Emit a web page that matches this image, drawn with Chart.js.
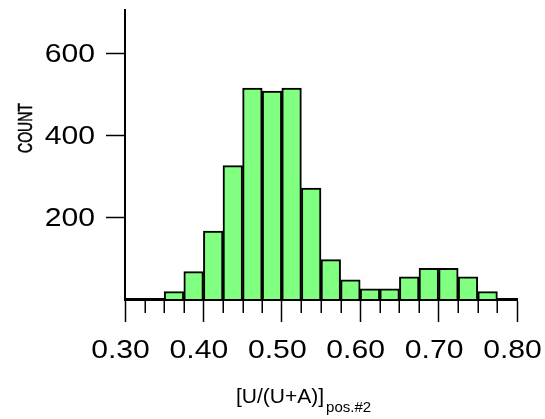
<!DOCTYPE html>
<html>
<head>
<meta charset="utf-8">
<script src="https://cdn.jsdelivr.net/npm/chart.js@4.4.1/dist/chart.umd.min.js"></script>
<style>
  html, body { margin: 0; padding: 0; background: #ffffff; }
  #wrap { width: 545px; height: 419px; position: relative; }
</style>
</head>
<body>
<div id="wrap"><canvas id="hist" width="545" height="419"></canvas></div>
<script>
// Histogram bins (centre of each 0.025-wide bin) and their counts
const binCenters = [0.3625, 0.3875, 0.4125, 0.4375, 0.4625, 0.4875, 0.5125, 0.5375, 0.5625,
                    0.5875, 0.6125, 0.6375, 0.6625, 0.6875, 0.7125, 0.7375, 0.7625];
const counts = [18, 67, 166, 326, 515, 508, 515, 271, 96, 47, 25, 25, 54, 75, 75, 54, 18];

// Axis ticks
const xMajorTicks = [0.30, 0.40, 0.50, 0.60, 0.70, 0.80];
const xTickLabels = ['0.30', '0.40', '0.50', '0.60', '0.70', '0.80'];
const xMinorTicks = [0.325, 0.35, 0.375, 0.425, 0.45, 0.475, 0.525, 0.55, 0.575,
                     0.625, 0.65, 0.675, 0.725, 0.75, 0.775];
const yTicks = [200, 400, 600];
const yTickLabels = ['200', '400', '600'];

const yTitle = 'COUNT';
const xTitleMain = '[U/(U+A)]';
const xTitleSub = 'pos.#2';

const FONT = '"Liberation Sans", Arial, Helvetica, sans-serif';

// Draws tick labels, minor x ticks and axis titles on top of the chart
const axisDecor = {
  id: 'axisDecor',
  afterDraw(chart) {
    const { ctx, scales: { x, y } } = chart;
    ctx.save();
    ctx.fillStyle = '#000';
    ctx.strokeStyle = '#000';

    // minor ticks below the baseline
    ctx.lineWidth = 1.5;
    xMinorTicks.forEach(v => {
      const px = Math.round(x.getPixelForValue(v)) + 0.25;
      ctx.beginPath();
      ctx.moveTo(px, x.top + 1);
      ctx.lineTo(px, x.top + 14);
      ctx.stroke();
    });

    // tick labels (slightly wide lettering)
    ctx.font = '26px ' + FONT;
    ctx.textBaseline = 'alphabetic';
    yTicks.forEach((v, i) => {
      const py = y.getPixelForValue(v);
      ctx.save();
      ctx.translate(95, py + 8.5);
      ctx.scale(1.16, 1);
      ctx.textAlign = 'right';
      ctx.fillText(yTickLabels[i], 0, 0);
      ctx.restore();
    });
    xMajorTicks.forEach((v, i) => {
      const px = x.getPixelForValue(v);
      ctx.save();
      ctx.translate(px - 4.5, x.top + 58.5);
      ctx.scale(1.16, 1);
      ctx.textAlign = 'center';
      ctx.fillText(xTickLabels[i], 0, 0);
      ctx.restore();
    });

    // y title, rotated, with slightly heavier strokes
    ctx.save();
    ctx.translate(31.7, 128);
    ctx.rotate(-Math.PI / 2);
    ctx.scale(1, 1.5);
    ctx.font = '14px ' + FONT;
    ctx.textAlign = 'center';
    ctx.textBaseline = 'alphabetic';
    ctx.lineWidth = 0.35;
    ctx.fillText(yTitle, 0, 0);
    ctx.strokeText(yTitle, 0, 0);
    ctx.restore();

    // x title with subscript
    ctx.textAlign = 'left';
    ctx.font = '21px ' + FONT;
    const tx = 236;
    const ty = x.top + 104;
    ctx.fillText(xTitleMain, tx, ty);
    const w = ctx.measureText(xTitleMain).width;
    ctx.font = '15px ' + FONT;
    ctx.fillText(xTitleSub, tx + w + 2, ty + 8.5);

    ctx.restore();
  }
};

new Chart(document.getElementById('hist'), {
  type: 'bar',
  data: {
    datasets: [{
      data: binCenters.map((c, i) => ({ x: c, y: counts[i] })),
      backgroundColor: '#80ff80',
      borderColor: '#000000',
      borderWidth: 2,
      barPercentage: 1,
      categoryPercentage: 1
    }]
  },
  options: {
    responsive: false,
    animation: false,
    devicePixelRatio: 1,
    layout: { padding: { top: 10, right: 28, left: 0, bottom: 0 } },
    plugins: { legend: { display: false }, tooltip: { enabled: false } },
    scales: {
      x: {
        type: 'linear',
        min: 0.30,
        max: 0.80,
        offset: false,
        grid: {
          offset: false,
          drawOnChartArea: false,
          drawTicks: true,
          tickLength: 23,
          tickWidth: 1.5,
          tickColor: '#000'
        },
        border: { display: true, color: '#000', width: 3 },
        ticks: { display: false },
        afterBuildTicks: s => { s.ticks = xMajorTicks.map(v => ({ value: v })); },
        afterFit: s => { s.height = 120; }
      },
      y: {
        min: 0,
        max: 706,
        grid: {
          drawOnChartArea: false,
          drawTicks: true,
          tickLength: 19,
          tickWidth: 1.5,
          tickColor: '#000'
        },
        border: { display: true, color: '#000', width: 2 },
        ticks: { display: false },
        afterBuildTicks: s => { s.ticks = yTicks.map(v => ({ value: v })); },
        afterFit: s => { s.width = 125; }
      }
    }
  },
  plugins: [axisDecor]
});
</script>
</body>
</html>
